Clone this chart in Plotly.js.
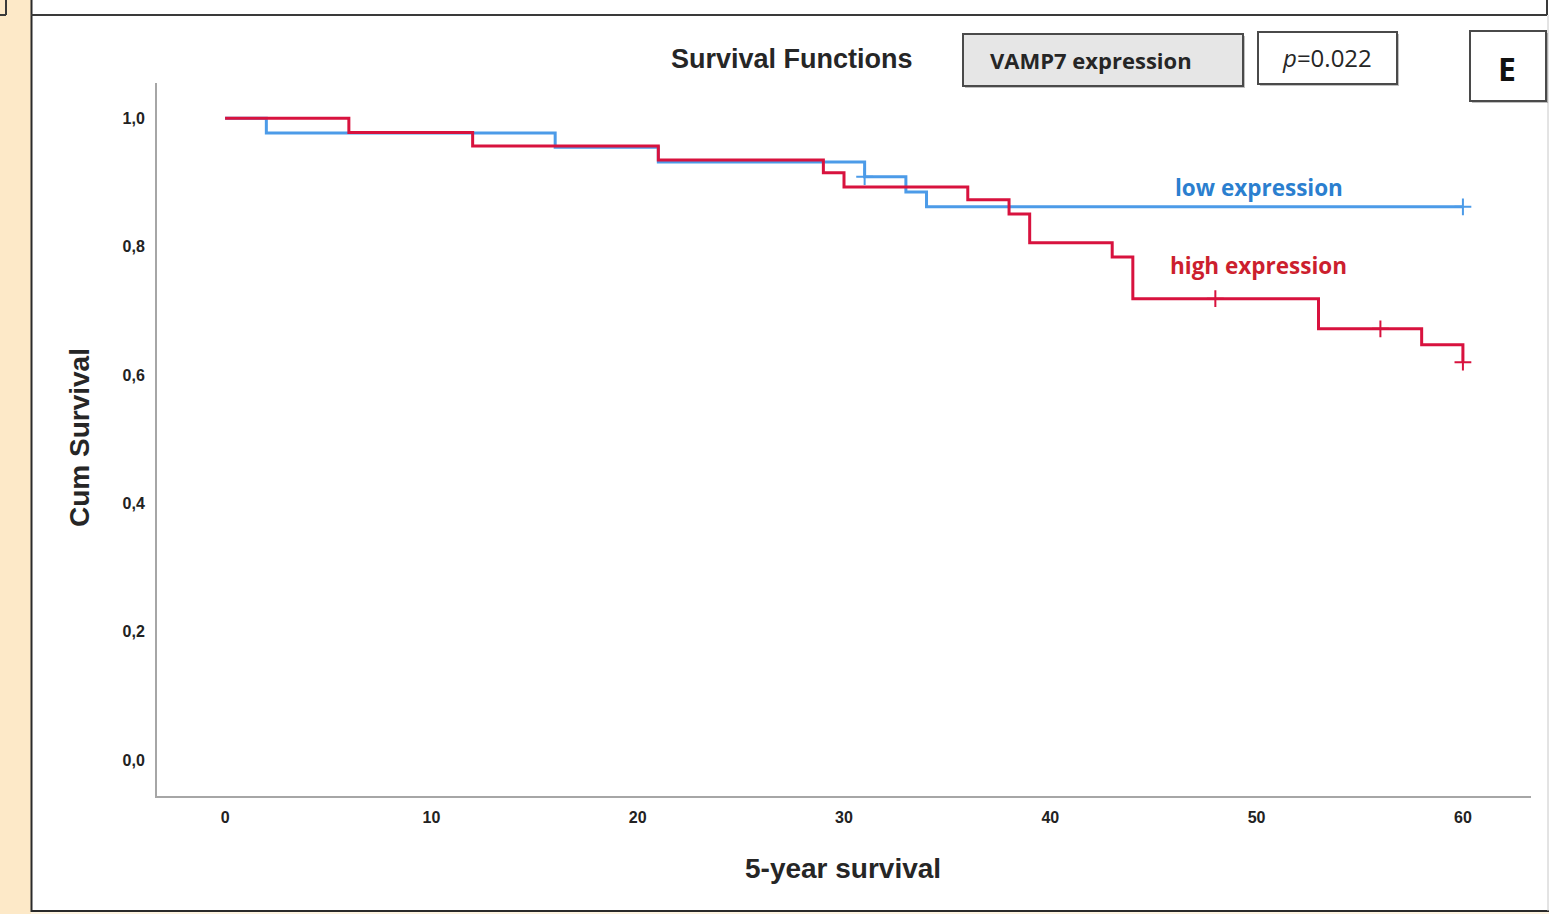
<!DOCTYPE html>
<html>
<head>
<meta charset="utf-8">
<script src="https://cdn.plot.ly/plotly-3.0.1.min.js"></script>
<style>
  html, body { margin: 0; padding: 0; background: #ffffff; }
  #chart { width: 1549px; height: 914px; }
</style>
</head>
<body>
<div id="chart"></div>
<script>
// Kaplan-Meier estimates, months of follow-up
const lowTimes = [0, 2, 16, 21, 31, 33, 34, 60];
const lowSurv  = [1.0, 0.977, 0.955, 0.932, 0.909, 0.885, 0.862, 0.862];
const lowCensorTimes = [31, 60];
const lowCensorSurv  = [0.909, 0.862];

const highTimes = [0, 6, 12, 21, 29, 30, 36, 38, 39, 43, 44, 53, 58, 60];
const highSurv  = [1.0, 0.978, 0.957, 0.935, 0.915, 0.893, 0.873, 0.851, 0.806, 0.784, 0.719, 0.672, 0.647, 0.620];
const highCensorTimes = [48, 56, 60];
const highCensorSurv  = [0.719, 0.672, 0.620];

const xTickVals = [0, 10, 20, 30, 40, 50, 60];
const xTickText = ['0', '10', '20', '30', '40', '50', '60'];
const yTickVals = [0, 0.2, 0.4, 0.6, 0.8, 1.0];
const yTickText = ['0,0', '0,2', '0,4', '0,6', '0,8', '1,0'];

const groupNames = ['low expression', 'high expression'];
const chartTitle = 'Survival Functions';
const factorLabel = 'VAMP7 expression';
const pValueLabel = '<i>p</i>=0.022';
const panelLetter = 'E';
const xTitle = '5-year survival';
const yTitle = 'Cum Survival';

const BLUE = '#4c9be8';
const RED = '#d8123e';

// plot area in page pixels
const W = 1549, H = 914;
const L = 157, R = 1531, T = 83, B = 796;
const px = x => (x - L) / (R - L);
const py = y => (B - y) / (B - T);

const traces = [
  { x: lowTimes, y: lowSurv, mode: 'lines', line: { shape: 'hv', color: BLUE, width: 3 },
    name: groupNames[0], hoverinfo: 'x+y' },
  { x: lowCensorTimes, y: lowCensorSurv, mode: 'markers',
    marker: { symbol: 'cross-thin', size: 12, line: { color: BLUE, width: 2 } }, hoverinfo: 'skip' },
  { x: highTimes, y: highSurv, mode: 'lines', line: { shape: 'hv', color: RED, width: 3 },
    name: groupNames[1], hoverinfo: 'x+y' },
  { x: highCensorTimes, y: highCensorSurv, mode: 'markers',
    marker: { symbol: 'cross-thin', size: 12, line: { color: RED, width: 2 } }, hoverinfo: 'skip' }
];

function box(x0, y0, x1, y1, fill, shadow) {
  const out = [];
  if (shadow) {
    out.push({ type: 'rect', xref: 'paper', yref: 'paper', layer: 'above',
      x0: px(x0 + 2), x1: px(x1 + 2), y0: py(y0 + 2), y1: py(y1 + 2),
      line: { width: 0 }, fillcolor: 'rgba(0,0,0,0.25)' });
  }
  out.push({ type: 'rect', xref: 'paper', yref: 'paper', layer: 'above',
    x0: px(x0), x1: px(x1), y0: py(y0), y1: py(y1),
    line: { color: '#4a4a4a', width: 2 }, fillcolor: fill });
  return out;
}
function hline(x0, x1, y, color, width) {
  return { type: 'line', xref: 'paper', yref: 'paper', layer: 'above',
    x0: px(x0), x1: px(x1), y0: py(y), y1: py(y), line: { color: color, width: width } };
}
function vline(x, y0, y1, color, width) {
  return { type: 'line', xref: 'paper', yref: 'paper', layer: 'above',
    x0: px(x), x1: px(x), y0: py(y0), y1: py(y1), line: { color: color, width: width } };
}

const shapes = [
  // beige margin strip and frame
  { type: 'rect', xref: 'paper', yref: 'paper', layer: 'below',
    x0: px(0), x1: px(31), y0: py(0), y1: py(914), line: { width: 0 }, fillcolor: '#fde9c8' },
  { type: 'rect', xref: 'paper', yref: 'paper', layer: 'below',
    x0: px(31), x1: px(1549), y0: py(912), y1: py(914), line: { width: 0 }, fillcolor: '#fdf3e0' },
  vline(31.5, 0, 912, '#2a2a2a', 2),
  hline(31, 1547, 15, '#3a3a3a', 2),
  hline(31, 1549, 911, '#2a2a2a', 2),
  vline(1547, 0, 15, '#3a3a3a', 2),
  vline(1548, 15, 911, '#c8c8c8', 1),
  vline(6, 0, 15, '#3a3a3a', 2),
  hline(0, 6, 15, '#3a3a3a', 2),
  ...box(963, 34, 1243, 86, '#e6e6e6', true),
  ...box(1258, 32, 1397, 84, '#ffffff', true),
  ...box(1470, 31, 1546, 101, '#ffffff', true)
];

function label(text, x, y, font, extra) {
  return Object.assign({ text: text, xref: 'paper', yref: 'paper', x: px(x), y: py(y),
    xanchor: 'center', yanchor: 'middle', showarrow: false, font: font }, extra || {});
}
const sansFont = (size, color) => ({ family: 'Liberation Sans, Arial, sans-serif', size: size, color: color });
const openFont = (size, color, weight) => ({ family: 'Open Sans, sans-serif', size: size, color: color, weight: weight });

const annotations = [
  label('<b>' + chartTitle + '</b>', 792, 59, sansFont(27, '#262626')),
  label('<b>' + factorLabel + '</b>', 1091, 60, openFont(22, '#262626', 700)),
  label(pValueLabel, 1327, 58, openFont(24, '#262626', 500)),
  label('<b>' + panelLetter + '</b>', 1507, 68, openFont(32, '#111111', 700)),
  label('<b>' + groupNames[0] + '</b>', 1259, 187, openFont(22.5, '#2b7fcf', 700)),
  label('<b>' + groupNames[1] + '</b>', 1258, 265, openFont(22.5, '#cc1f2e', 700)),
  label('<b>' + xTitle + '</b>', 843, 868, sansFont(28, '#262626')),
  label('<b>' + yTitle + '</b>', 80, 438, sansFont(28, '#262626'), { textangle: -90 })
];

const tickFont = { family: 'Liberation Sans, Arial, sans-serif', size: 16, color: '#222222', weight: 'bold' };

const layout = {
  width: W, height: H,
  margin: { l: L, r: W - R, t: T, b: H - B, pad: 0 },
  paper_bgcolor: '#ffffff',
  plot_bgcolor: '#ffffff',
  showlegend: false,
  xaxis: {
    range: [-3.3, 63.3],
    tickvals: xTickVals, ticktext: xTickText,
    showgrid: false, zeroline: false,
    showline: true, linecolor: '#a6a6a6', linewidth: 2,
    ticks: '', ticklabelstandoff: 6,
    tickfont: tickFont,
    fixedrange: true
  },
  yaxis: {
    range: [-0.056, 1.055],
    tickvals: yTickVals, ticktext: yTickText,
    showgrid: false, zeroline: false,
    showline: true, linecolor: '#a6a6a6', linewidth: 2,
    ticks: '', ticklabelstandoff: 7,
    tickfont: tickFont,
    fixedrange: true
  },
  shapes: shapes,
  annotations: annotations
};

Plotly.newPlot('chart', traces, layout, { displayModeBar: false, staticPlot: true });
</script>
</body>
</html>
